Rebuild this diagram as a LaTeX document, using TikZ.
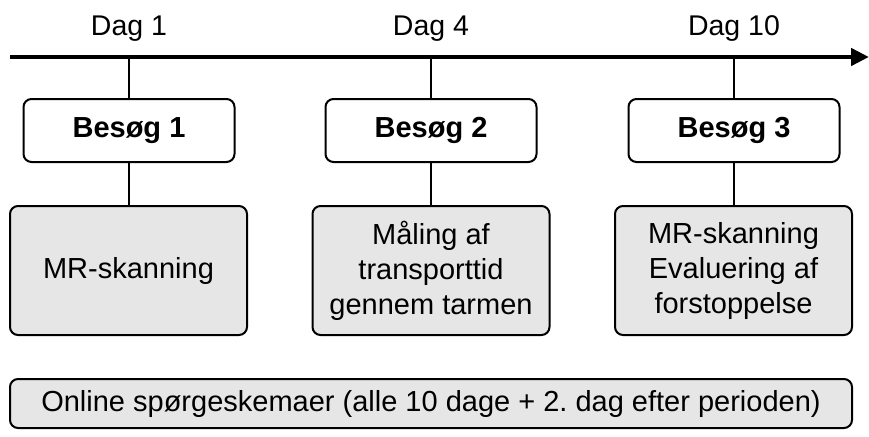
\documentclass[tikz,border=0pt]{standalone}
\usepackage{fontspec}
\setmainfont{Liberation Sans}
\usetikzlibrary{arrows.meta}
\definecolor{boxgray}{RGB}{230,230,230}
\frenchspacing
\tikzset{
  daylabel/.style={anchor=base, inner sep=0pt, font=\fontsize{28.5}{34}\selectfont},
  visitbox/.style={draw, line width=2pt, rounded corners=8pt, fill=white, minimum width=211pt, minimum height=63pt, inner sep=0pt, font=\fontsize{29}{34}\selectfont\bfseries},
  actbox/.style={draw, line width=2pt, rounded corners=8pt, fill=boxgray, minimum width=237pt, minimum height=129pt, inner sep=0pt, align=center, font=\fontsize{29}{35}\selectfont},
  bottombox/.style={draw, line width=2pt, rounded corners=8pt, fill=boxgray, minimum width=842pt, minimum height=49pt, inner sep=0pt, font=\fontsize{29}{34}\selectfont},
  timeline/.style={line width=4.5pt, -{Triangle[length=18pt,width=17pt]}},
  tick/.style={line width=2pt}
}
\begin{document}
\begin{tikzpicture}[x=1pt,y=-1pt]
\useasboundingbox (0,0) rectangle (869,436);
\coordinate (tlstart) at (10,57);
\coordinate (tlend) at (869,57);
\draw[timeline] (tlstart) -- (tlend);
\coordinate (t1) at (129,57);
\coordinate (t2) at (431,57);
\coordinate (t3) at (734,57);
\node[daylabel] (d1) at (129,36) {Dag 1};
\node[daylabel] (d2) at (431,36) {Dag 4};
\node[daylabel] (d3) at (734,36) {Dag 10};
\node[visitbox] (v1) at (129,130.5) {Besøg 1};
\node[visitbox] (v2) at (431,130.5) {Besøg 2};
\node[visitbox] (v3) at (734,130.5) {Besøg 3};
\node[actbox] (a1) at (128.5,270.5) {MR-skanning};
\node[actbox] (a2) at (431,270.5) {Måling af\\transporttid\\gennem tarmen};
\node[actbox] (a3) at (733.5,270.5) {MR-skanning\\Evaluering af\\forstoppelse};
\node[bottombox] (b) at (431,403.5) {Online spørgeskemaer (alle 10 dage + 2. dag efter perioden)};
\draw[tick] (t1) -- (v1.north);
\draw[tick] (t2) -- (v2.north);
\draw[tick] (t3) -- (v3.north);
\draw[tick] (v1.south) -- (a1.north -| v1.south);
\draw[tick] (v2.south) -- (a2.north -| v2.south);
\draw[tick] (v3.south) -- (a3.north -| v3.south);
\end{tikzpicture}
\end{document}
